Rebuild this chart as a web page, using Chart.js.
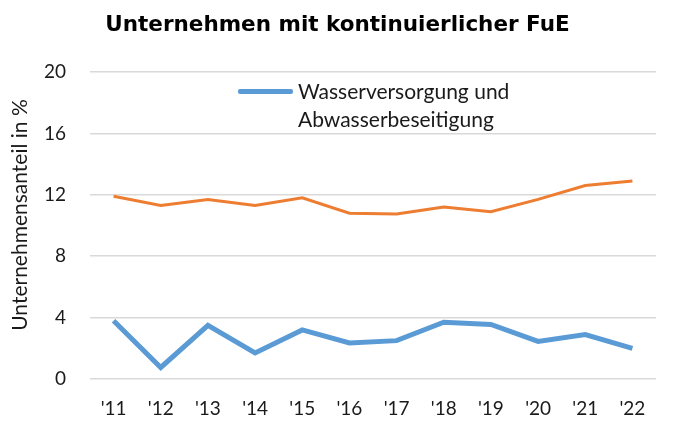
<!DOCTYPE html>
<html>
<head>
<meta charset="utf-8">
<script src="https://cdn.jsdelivr.net/npm/chart.js@4"></script>
<style>
  body { margin: 0; background: #fff; }
  #wrap { position: relative; width: 675px; height: 425px; }
  #legende { position: absolute; left: 238px; top: 77px; font-family: Lato, "Open Sans", sans-serif; font-size: 21px; color: #1a1a1a; line-height: 28px; }
  #legende .linie { position: absolute; left: 0; top: 12px; width: 55px; height: 5px; background: #5b9bd5; border-radius: 2px; }
  #legende .text { margin-left: 60px; }
</style>
</head>
<body>
<div id="wrap">
  <canvas id="grafik" width="675" height="425"></canvas>
  <div id="legende"><span class="linie"></span><div class="text">Wasserversorgung und<br>Abwasserbeseitigung</div></div>
</div>
<script>
const jahre = ["'11", "'12", "'13", "'14", "'15", "'16", "'17", "'18", "'19", "'20", "'21", "'22"];
const wasser = [3.8, 0.75, 3.5, 1.7, 3.2, 2.35, 2.5, 3.7, 3.55, 2.45, 2.9, 2.0];
const gesamt = [11.9, 11.3, 11.7, 11.3, 11.8, 10.8, 10.75, 11.2, 10.9, 11.7, 12.6, 12.9];
const titel = 'Unternehmen mit kontinuierlicher FuE';
const achsenTitel = 'Unternehmensanteil in %';

const schrift = 'Lato, "Open Sans", sans-serif';

// Achsentitel etwas oberhalb der Mitte, wie im Original
const achsenTitelPlugin = {
    id: 'achsenTitel',
    afterDraw(chart) {
        const c = chart.ctx;
        c.save();
        c.translate(20, 215);
        c.rotate(-Math.PI / 2);
        c.font = '21px ' + schrift;
        c.fillStyle = '#1a1a1a';
        c.textAlign = 'center';
        c.textBaseline = 'middle';
        c.fillText(achsenTitel, 0, 0);
        c.restore();
    }
};

const ctx = document.getElementById('grafik').getContext('2d');
new Chart(ctx, {
    type: 'line',
    data: {
        labels: jahre,
        datasets: [{
            label: 'Wasserversorgung und Abwasserbeseitigung',
            data: wasser,
            borderColor: '#5b9bd5',
            borderWidth: 5,
            pointRadius: 0,
            tension: 0
        }, {
            label: 'Insgesamt',
            data: gesamt,
            borderColor: '#ed7d31',
            borderWidth: 3,
            pointRadius: 0,
            tension: 0
        }]
    },
    options: {
        responsive: false,
        animation: false,
        layout: { padding: 0 },
        plugins: {
            legend: { display: false },
            tooltip: { enabled: false },
            title: {
                display: true,
                text: titel,
                color: '#000',
                font: { family: '"DejaVu Sans"', size: 21.5, weight: 'bold' },
                padding: { top: 13, bottom: 33.2 }
            }
        },
        scales: {
            x: {
                offset: true,
                grid: { display: false, drawTicks: false },
                border: { display: false },
                ticks: { color: '#1a1a1a', font: { family: schrift, size: 19 }, padding: 18, maxRotation: 0 },
                afterFit: function (scale) { scale.height = 46; }
            },
            y: {
                min: 0,
                max: 20,
                grid: { color: '#d9d9d9', lineWidth: 1.5, drawTicks: false },
                border: { display: false },
                ticks: { stepSize: 4, color: '#1a1a1a', font: { family: schrift, size: 19 }, padding: 24 },
                afterFit: function (scale) { scale.width = 90; }
            },
            // leerer Rand rechts, damit der Titel mittig bleibt
            rand: {
                position: 'right',
                grid: { display: false, drawTicks: false },
                border: { display: false },
                ticks: { display: false },
                afterFit: function (scale) { scale.width = 19; }
            }
        }
    },
    plugins: [achsenTitelPlugin]
});
</script>
</body>
</html>
